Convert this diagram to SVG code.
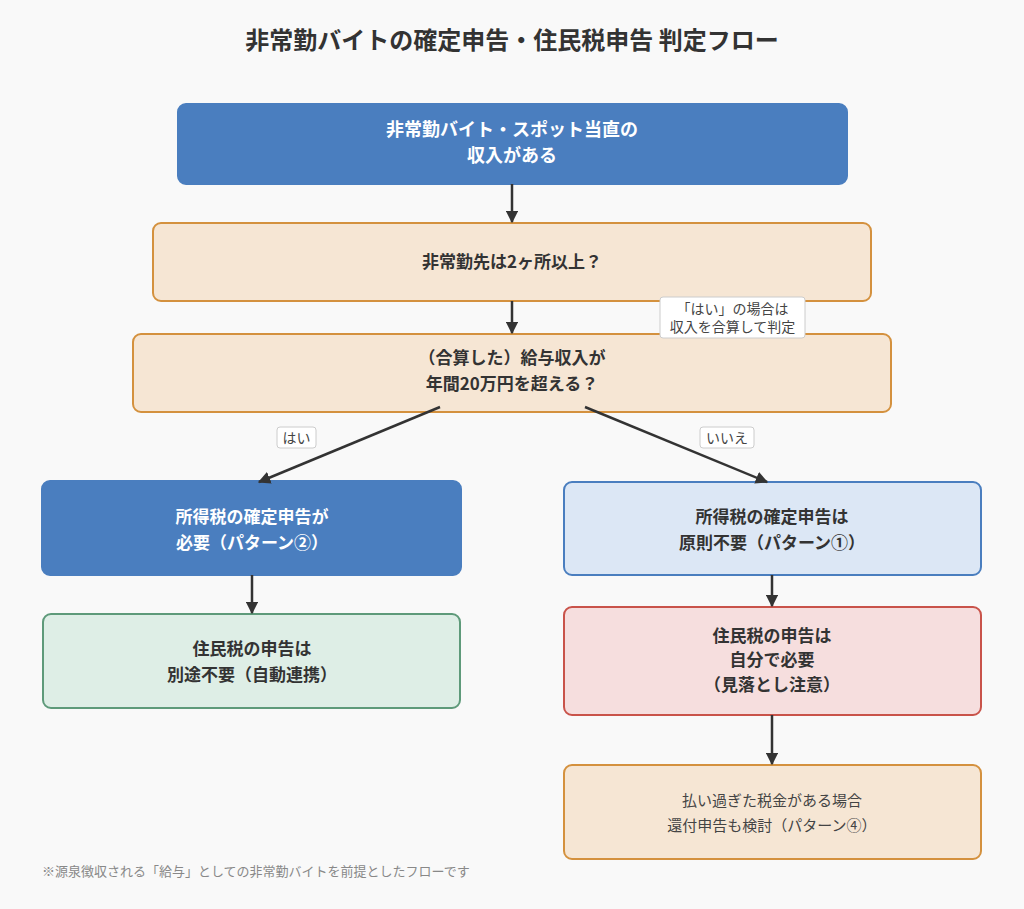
<svg xmlns="http://www.w3.org/2000/svg" width="1024" height="909" viewBox="0 0 1024 909">
<defs>
<marker id="ah" viewBox="0 0 10 10" refX="9" refY="5" markerWidth="5" markerHeight="5" orient="auto" markerUnits="strokeWidth">
<path d="M0,0 L10,5 L0,10 z" fill="#333"/>
</marker>
<style>
text{font-family:"Noto Sans CJK JP","Noto Sans",sans-serif;text-anchor:middle;}
.title{font-size:24px;font-weight:bold;fill:#333;}
.t{font-size:17px;font-weight:bold;fill:#333;}
.tw{font-size:17px;font-weight:bold;fill:#fff;}
.tr{font-size:15px;fill:#444;}
.lab{font-size:14px;fill:#444;}
.lb{fill:#fff;stroke:#ccc;stroke-width:1;}
.blue{fill:#4a7ebf;stroke:#4a7ebf;stroke-width:2;}
.orange{fill:#f6e6d4;stroke:#d4913e;stroke-width:2;}
.lblue{fill:#dce7f5;stroke:#4a7ebf;stroke-width:2;}
.green{fill:#deeee6;stroke:#5e9a7a;stroke-width:2;}
.red{fill:#f6dede;stroke:#c9534a;stroke-width:2;}
.edge{stroke:#333;stroke-width:2.5;fill:none;marker-end:url(#ah);}
.note{font-size:13px;fill:#888;text-anchor:start;}
</style>
</defs>
<rect width="1024" height="909" fill="#f9f9f9"/>
<text class="title" x="512" y="49">非常勤バイトの確定申告・住民税申告 判定フロー</text>

<g id="n1">
<rect class="blue" x="178" y="104" width="669" height="80" rx="8"/>
<text class="tw" x="512" y="136" style="font-size:18px">非常勤バイト・スポット当直の</text>
<text class="tw" x="512" y="162" style="font-size:18px">収入がある</text>
</g>
<g id="n2">
<rect class="orange" x="153" y="223" width="718" height="78" rx="8"/>
<text class="t" x="512" y="268">非常勤先は2ヶ所以上？</text>
</g>
<g id="n3">
<rect class="orange" x="133" y="334" width="758" height="78" rx="8"/>
<text class="t" x="512" y="364">（合算した）給与収入が</text>
<text class="t" x="512" y="390">年間20万円を超える？</text>
</g>
<g id="n4">
<rect class="blue" x="42" y="481" width="419" height="94" rx="8"/>
<text class="tw" x="252" y="523">所得税の確定申告が</text>
<text class="tw" x="252" y="549">必要（パターン②）</text>
</g>
<g id="n5">
<rect class="lblue" x="564" y="482" width="417" height="93" rx="8"/>
<text class="t" x="772" y="523">所得税の確定申告は</text>
<text class="t" x="772" y="549">原則不要（パターン①）</text>
</g>
<g id="n6">
<rect class="green" x="43" y="614" width="417" height="94" rx="8"/>
<text class="t" x="252" y="655">住民税の申告は</text>
<text class="t" x="252" y="681">別途不要（自動連携）</text>
</g>
<g id="n7">
<rect class="red" x="564" y="607" width="417" height="108" rx="8"/>
<text class="t" x="772" y="642">住民税の申告は</text>
<text class="t" x="772" y="666">自分で必要</text>
<text class="t" x="772" y="691">（見落とし注意）</text>
</g>
<g id="n8">
<rect class="orange" x="564" y="765" width="417" height="94" rx="8"/>
<text class="tr" x="772" y="806">払い過ぎた税金がある場合</text>
<text class="tr" x="772" y="831">還付申告も検討（パターン④）</text>
</g>

<g id="edges">
<line class="edge" x1="512" y1="184" x2="512" y2="222"/>
<line class="edge" x1="512" y1="301" x2="512" y2="333"/>
<line class="edge" x1="440" y1="407" x2="259" y2="482"/>
<line class="edge" x1="585" y1="407" x2="767" y2="482"/>
<line class="edge" x1="252" y1="575" x2="252" y2="613"/>
<line class="edge" x1="772" y1="575" x2="772" y2="606"/>
<line class="edge" x1="772" y1="715" x2="772" y2="764"/>
</g>

<g id="label-sum">
<rect class="lb" x="660" y="297" width="145" height="41" rx="3"/>
<text class="lab" x="732.5" y="314">「はい」の場合は</text>
<text class="lab" x="732.5" y="332">収入を合算して判定</text>
</g>
<g id="label-yes">
<rect class="lb" x="277" y="427" width="39" height="21" rx="3"/>
<text class="lab" x="296.5" y="442.5">はい</text>
</g>
<g id="label-no">
<rect class="lb" x="700" y="427" width="54" height="21" rx="3"/>
<text class="lab" x="727" y="442.5">いいえ</text>
</g>

<text class="note" x="42" y="876">※源泉徴収される「給与」としての非常勤バイトを前提としたフローです</text>
</svg>
